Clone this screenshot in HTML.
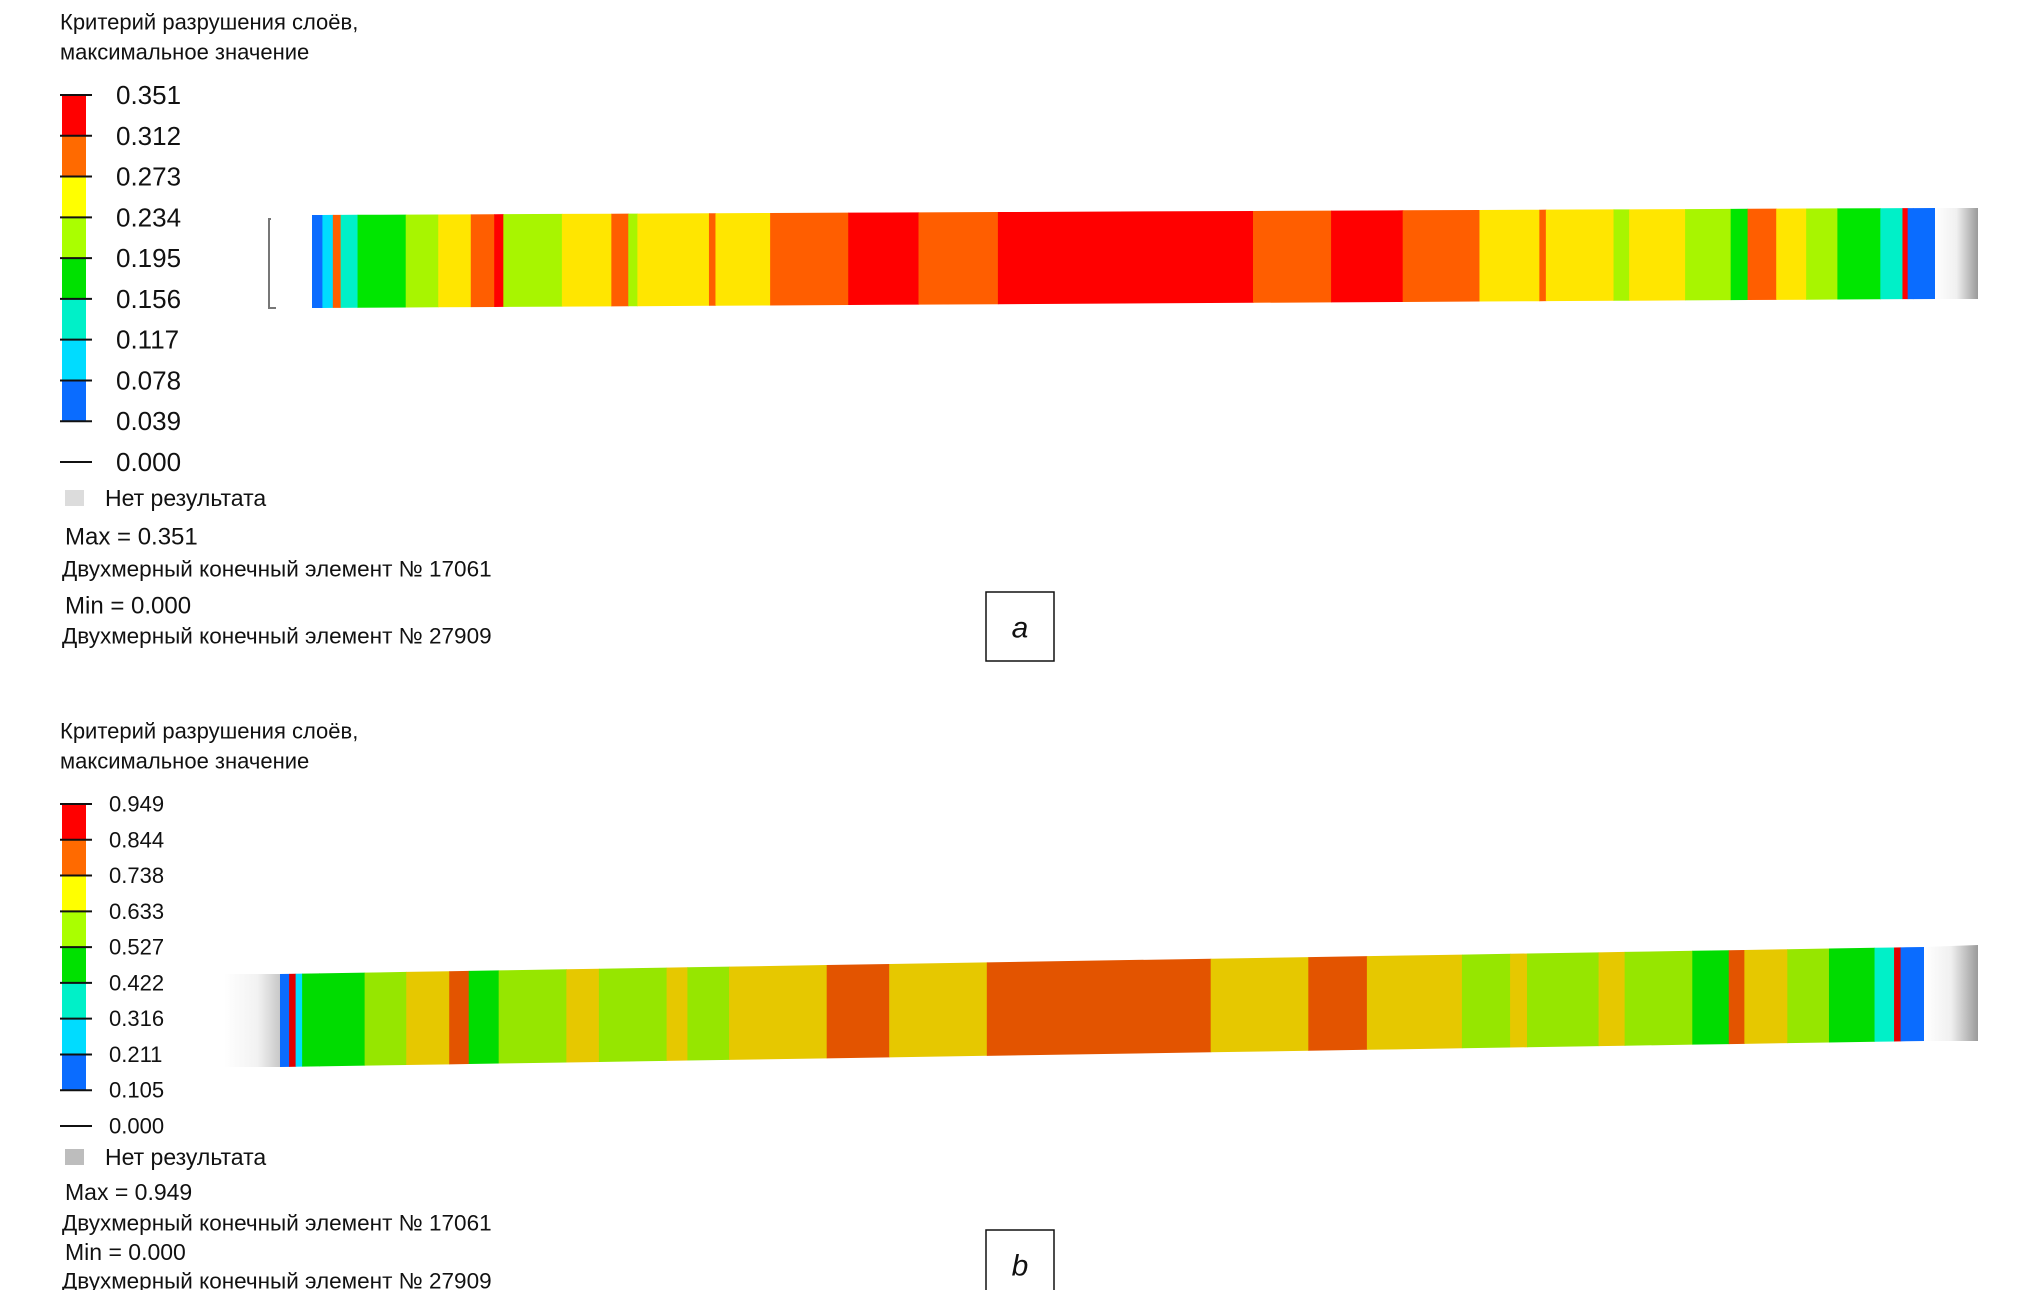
<!DOCTYPE html>
<html><head><meta charset="utf-8"><style>
html,body{margin:0;padding:0;background:#fff;}
#root{position:relative;width:2020px;height:1290px;overflow:hidden;font-family:"Liberation Sans","DejaVu Sans",sans-serif;color:#111;}
svg{position:absolute;left:0;top:0;}
</style></head><body>
<div id="root">
<svg id="svg" width="2020" height="1290" viewBox="0 0 2020 1290">
<defs>
<linearGradient id="cyl" x1="0" x2="1" y1="0" y2="0">
<stop offset="0" stop-color="#ffffff"/><stop offset="0.5" stop-color="#f0f0f0"/><stop offset="1" stop-color="#9a9a9a"/>
</linearGradient>
<linearGradient id="cylL" x1="0" x2="1" y1="0" y2="0">
<stop offset="0" stop-color="#ffffff"/><stop offset="0.6" stop-color="#f2f2f2"/><stop offset="1" stop-color="#c8c8c8"/>
</linearGradient>
</defs>
<g id="layer"></g>
</svg>
</div>
<script>
// ---- data ----
const legendTicksA = ["0.351","0.312","0.273","0.234","0.195","0.156","0.117","0.078","0.039","0.000"];
const legendTicksB = ["0.949","0.844","0.738","0.633","0.527","0.422","0.316","0.211","0.105","0.000"];
// beam positions (along-length units) of segment boundaries, and colour level per segment (0=min .. 7=max)
const beamEdgesA = [0,8,16,22,35,72,97,122,140,147,192,230,243,250,305,310,352,412,466,527,723,783,838,897,943,948,1000,1012,1055,1090,1103,1125,1148,1172,1205,1222,1226,1230,1247];
const beamLevelsA = [0,1,6,2,3,4,5,6,7,4,5,6,4,5,6,5,6,7,6,7,6,7,6,5,6,5,4,5,4,3,6,5,4,3,2,7,0,0];
const beamEdgesB = [0,7,12,17,30,65,97,130,145,168,220,245,297,313,345,420,468,543,715,790,835,908,945,958,1013,1033,1085,1113,1125,1158,1190,1225,1240,1245,1263];
const beamLevelsB = [0,7,1,3,3,4,5,6,3,4,5,4,5,4,5,6,5,6,5,6,5,4,5,4,5,4,3,6,5,4,3,2,7,0];
const beamLengthA = 1247, beamLengthB = 1263;

const legendColors = ["#0a6cff","#00dcff","#00f0c8","#00e100","#aaff00","#ffff00","#ff6a00","#ff0000"];
const beamColorsA = ["#0a6cff","#00dcff","#00f0c8","#00e600","#a8f500","#ffe600","#ff5e00","#ff0000"];
const beamColorsB = ["#0a6cff","#00dcff","#00f0c8","#00dc00","#96e600","#e6c800","#e35400","#e00000"];

const NS="http://www.w3.org/2000/svg";
const layer=document.getElementById('layer');
function mk(tag,attrs,parent){const e=document.createElementNS(NS,tag);for(const k in attrs)e.setAttribute(k,attrs[k]);(parent||layer).appendChild(e);return e;}
function txt(x,y,s,size,parent,anchor,style){const t=mk('text',{x:x,y:y,'font-size':size,'dominant-baseline':'central','text-anchor':anchor||'start',fill:'#111'},parent);if(style)t.setAttribute('font-style',style);t.textContent=s;return t;}

function legend(cfg){
  const g=mk('g',{});
  
  
  const t1=txt(60,cfg.titleY,"Критерий разрушения слоёв,",22,g);
  
  
  const t2=txt(60,cfg.titleY+30,"максимальное значение",22,g);
  
  
  const n=cfg.ticks.length;
  const y=i=>cfg.tickTop+i*(cfg.tickBottom-cfg.tickTop)/(n-1);
  for(let i=0;i<n-2;i++){
    const r=mk('rect',{x:62,y:y(i),width:24,height:y(i+1)-y(i),fill:legendColors[7-i]},g);
    
    
  }
  for(let i=0;i<n;i++){
    const l=mk('line',{x1:60,x2:92,y1:y(i),y2:y(i),stroke:'#111','stroke-width':2},g);
    
    
    const t=txt(cfg.labelX,y(i),cfg.ticks[i],cfg.labelSize,g);
    
    
  }
  const sq=mk('rect',{x:65,y:cfg.noY-8,width:19,height:16,fill:cfg.noFill},g);
  
  
  const nt=txt(105,cfg.noY,"Нет результата",23,g);
  
  
  const lines=[["Max = "+cfg.ticks[0],cfg.maxSize,65,"max-value"],["Двухмерный конечный элемент № 17061",22.5,62,"max-element"],["Min = "+cfg.ticks[n-1],cfg.maxSize,65,"min-value"],["Двухмерный конечный элемент № 27909",22.5,62,"min-element"]];
  lines.forEach((L,i)=>{const t=txt(L[2],cfg.infoY[i],L[0],L[1],g);
    
    });
}

function beam(cfg){
  const g=mk('g',{});
  
  
  const xs=u=>cfg.x0+u*(cfg.x1-cfg.x0)/cfg.len;
  const top=x=>cfg.tl+(x-cfg.x0)*(cfg.tr-cfg.tl)/(cfg.x1-cfg.x0);
  const bot=x=>cfg.bl+(x-cfg.x0)*(cfg.br-cfg.bl)/(cfg.x1-cfg.x0);
  for(let i=0;i<cfg.levels.length;i++){
    const a=xs(cfg.edges[i]), b=xs(cfg.edges[i+1])+0.6;
    const p=mk('polygon',{points:`${a},${top(a)} ${b},${top(b)} ${b},${bot(b)} ${a},${bot(a)}`,fill:cfg.colors[cfg.levels[i]]},g);
    
    
  }
  return {top,bot,g};
}

legend({name:'legend-a',titleY:22,ticks:legendTicksA,tickTop:95,tickBottom:462,labelX:116,labelSize:26,noY:498,noFill:'#dcdcdc',maxSize:24,infoY:[537,569,606,636]});
legend({name:'legend-b',titleY:731,ticks:legendTicksB,tickTop:804,tickBottom:1126,labelX:109,labelSize:22,noY:1157,noFill:'#bdbdbd',maxSize:23,infoY:[1192,1223,1252,1281]});

const A=beam({name:'beam-a',edges:beamEdgesA,levels:beamLevelsA,colors:beamColorsA,len:beamLengthA,x0:312,x1:1935,tl:215,tr:208,bl:308,br:299});
const ca=mk('rect',{x:1935,y:208,width:43,height:91,fill:'url(#cyl)'},A.g);


const br=mk('polyline',{points:'271,219 269,219 269,308 276,308',fill:'none',stroke:'#777','stroke-width':2},A.g);



const B=beam({name:'beam-b',edges:beamEdgesB,levels:beamLevelsB,colors:beamColorsB,len:beamLengthB,x0:280,x1:1924,tl:974,tr:947,bl:1067,br:1041});
const cb1=mk('polygon',{points:'224,974 280,974 280,1067 224,1067',fill:'url(#cylL)'},B.g);


const cb2=mk('polygon',{points:'1924,947 1978,945 1978,1041 1924,1041',fill:'url(#cyl)'},B.g);



function box(y,label,name){
  const g=mk('g',{});
  
  
  mk('rect',{x:986,y:y,width:68,height:69,fill:'#fff',stroke:'#111','stroke-width':1.5},g);
  txt(1020,y+36,label,30,g,'middle','italic');
}
box(592,'a','panel-label-a');
box(1230,'b','panel-label-b');
</script>
</body></html>
